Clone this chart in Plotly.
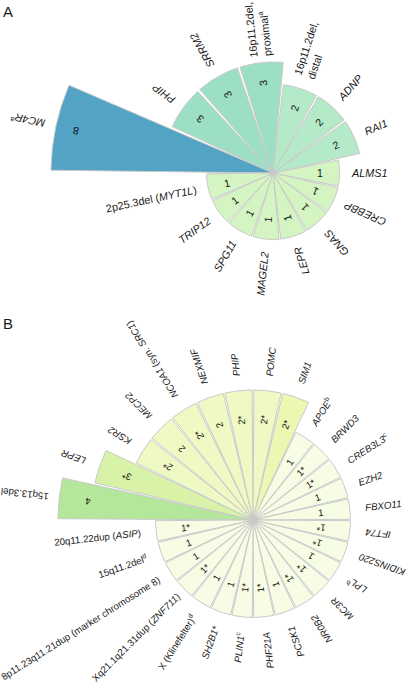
import re
import numpy as np
import plotly.graph_objects as go

# ---- data ----
# Panel A
labels_a = [
    "<i>MC4R</i><sup>a</sup>", "<i>PHIP</i>", "<i>SRRM2</i>",
    "16p11.2del,<br>proximal<sup>a</sup>", "16p11.2del,<br>distal",
    "<i>ADNP</i>", "<i>RAI1</i>", "<i>ALMS1</i>", "<i>CREBBP</i>", "<i>GNAS</i>",
    "<i>LEPR</i>", "<i>MAGEL2</i>", "<i>SPG11</i>", "<i>TRIP12</i>",
    "2p25.3del (<i>MYT1L</i>)",
]
counts_a = [8, 3, 3, 3, 2, 2, 2, 1, 1, 1, 1, 1, 1, 1, 1]
starred_a = [False] * 15

# Panel B
labels_b = [
    "15q13.3del", "<i>LEPR</i>", "<i>KSR2</i>", "<i>MECP2</i>",
    "<i>NCOA1</i> (syn. <i>SRC1</i>)", "<i>NEXMIF</i>", "<i>PHIP</i>",
    "<i>POMC</i>", "<i>SIM1</i>", "<i>APOE</i><sup>b</sup>", "<i>BRWD3</i>",
    "<i>CREB3L3</i><sup>c</sup>", "<i>EZH2</i>", "<i>FBXO11</i>", "<i>IFT74</i>",
    "<i>KIDINS220</i>", "<i>LPL</i><sup>b</sup>", "<i>MC3R</i>", "<i>NR0B2</i>",
    "<i>PCSK1</i>", "<i>PHF21A</i>", "<i>PLIN1</i><sup>c</sup>", "<i>SH2B1</i>*",
    "X (Klinefelter)<sup>d</sup>", "Xq21.1q21.31dup (<i>ZNF711</i>)",
    "8p11.23q11.21dup (marker chromosome 8)", "15q11.2del<sup>d</sup>",
    "20q11.22dup (<i>ASIP</i>)",
]
counts_b = [4, 3, 2, 2, 2, 2, 2, 2, 2, 1, 1, 1, 1, 1,
            1, 1, 1, 1, 1, 1, 1, 1, 1, 1, 1, 1, 1, 1]
starred_b = [False, True, True, False, True, False, True, True, True, False,
             True, True, False, False, True, True, False, True, True, False,
             True, True, False, False, True, False, False, True]

# colours by count
colors_a = {8: "#52a3c4", 3: "#9ddfc5", 2: "#b4eac8", 1: "#d4f5c2"}
colors_b = {4: "#b4e79c", 3: "#d8f3a8", 2: "#eff9c3", 1: "#f7fce5"}
color_override_b = {"<i>SIM1</i>": "#ebf8b2"}

W, H = 406, 685
SPLIT = 345          # pixel row dividing the two panels
R_MIN = -2           # radial axis starts below zero
FONT = "Liberation Sans, Arial, sans-serif"

# Arial advance widths (em/1000)
CW = dict(zip(" !(),-.*/", [278, 278, 333, 333, 278, 333, 278, 389, 278]))
CW.update({d: 556 for d in "0123456789"})
CW.update(dict(zip("ABCDEFGHIJKLMNOPQRSTUVWXYZ",
                   [667, 667, 722, 722, 667, 611, 778, 722, 278, 500, 667, 556, 833,
                    722, 778, 667, 778, 722, 667, 611, 722, 667, 944, 667, 667, 611])))
CW.update(dict(zip("abcdefghijklmnopqrstuvwxyz",
                   [556, 556, 500, 556, 556, 278, 556, 556, 222, 222, 500, 222, 833,
                    556, 556, 556, 556, 333, 500, 278, 556, 500, 722, 500, 500, 500])))


def text_width(label, size):
    best = 0
    for line in label.split("<br>"):
        w = 0
        for part in re.split(r"(<sup>.*?</sup>)", line):
            scale = 0.7 if part.startswith("<sup>") else 1.0
            plain = re.sub(r"<[^>]+>", "", part)
            w += scale * sum(CW.get(c, 556) for c in plain) / 1000
        best = max(best, w)
    return best * size


fig = go.Figure()


def draw_panel(labels, counts, starred, cmap, override, cx, cy, ppu,
               xref, yref, label_size, num_size, gap_px, dot_size):
    n = len(labels)
    step = 360 / n
    start = 180 - step / 2
    half = step * 0.47
    for i, (lab, v, st) in enumerate(zip(labels, counts, starred)):
        theta = start - i * step
        rad = v - R_MIN
        arc = np.radians(np.linspace(theta - half, theta + half, 30))
        xs = np.concatenate([[0], rad * np.cos(arc), [0]])
        ys = np.concatenate([[0], rad * np.sin(arc), [0]])
        fig.add_trace(go.Scatter(
            x=xs, y=ys, mode="lines", fill="toself",
            fillcolor=override.get(lab, cmap[v]),
            line=dict(color="#c9c9c9", width=1),
            xaxis=xref, yaxis=yref, hoverinfo="skip", showlegend=False,
        ))
        rot = theta if theta >= -1e-6 else theta + 180
        t = np.radians(theta)
        c, s = np.cos(t), np.sin(t)
        # count inside the wedge
        r_num = rad - 0.9
        fig.add_annotation(
            x=r_num * c, y=r_num * s, xref=xref, yref=yref,
            text=f"{v}*" if st else f"{v}", textangle=-rot, showarrow=False,
            font=dict(family=FONT, size=num_size, color="#111"),
            xanchor="center", yanchor="middle",
        )
        # label outside the wedge; pull it in if it would leave the page
        w_px = text_width(lab, label_size)
        room = []
        if c < -1e-6:
            room.append((cx - 1) / -c)
        if c > 1e-6:
            room.append((W - 1 - cx) / c)
        if s > 1e-6:
            room.append((cy - 1) / s)
        if s < -1e-6:
            room.append((H - 5 - cy) / -s)
        max_end = min(room) if room else 1e9
        gap = gap_px
        end = rad * ppu + gap + w_px
        if end > max_end:
            gap = max(4, gap - (end - max_end))
        r_lab = rad + (gap + w_px / 2) / ppu
        fig.add_annotation(
            x=r_lab * c, y=r_lab * s, xref=xref, yref=yref,
            text=lab, textangle=-rot, showarrow=False, align="left",
            font=dict(family=FONT, size=label_size, color="#1a1a1a"),
            xanchor="center", yanchor="middle",
        )
    fig.add_trace(go.Scatter(
        x=[0], y=[0], mode="markers",
        marker=dict(color="#c9c9c9", size=dot_size),
        xaxis=xref, yaxis=yref, hoverinfo="skip", showlegend=False,
    ))


# panel geometry (pixel centre, px per radial unit)
cx_a, cy_a, s_a = 273, 173, 222 / (max(counts_a) - R_MIN)
cx_b, cy_b, s_b = 253, 520, 195 / (max(counts_b) - R_MIN)

draw_panel(labels_a, counts_a, starred_a, colors_a, {}, cx_a, cy_a, s_a,
           "x", "y", 10.8, 10.5, 12, 6)
draw_panel(labels_b, counts_b, starred_b, colors_b, color_override_b,
           cx_b, cy_b, s_b, "x2", "y2", 9.7, 9.5, 15, 9)

split_frac = 1 - SPLIT / H
axis_off = dict(visible=False, showgrid=False, zeroline=False, fixedrange=True)
fig.update_layout(
    width=W, height=H,
    margin=dict(l=0, r=0, t=0, b=0),
    plot_bgcolor="white", paper_bgcolor="white",
    xaxis=dict(domain=[0, 1], range=[-cx_a / s_a, (W - cx_a) / s_a],
               anchor="y", **axis_off),
    yaxis=dict(domain=[split_frac, 1], range=[-(SPLIT - cy_a) / s_a, cy_a / s_a],
               anchor="x", **axis_off),
    xaxis2=dict(domain=[0, 1], range=[-cx_b / s_b, (W - cx_b) / s_b],
                anchor="y2", **axis_off),
    yaxis2=dict(domain=[0, split_frac],
                range=[-(H - cy_b) / s_b, (cy_b - SPLIT) / s_b],
                anchor="x2", **axis_off),
)

for letter, ypix in [("A", 1), ("B", 313)]:
    fig.add_annotation(
        x=1 / W, y=1 - ypix / H, xref="paper", yref="paper", text=letter,
        showarrow=False, xanchor="left", yanchor="top",
        font=dict(family=FONT, size=15, color="#1a1a1a"),
    )

# page body has a default 8px margin; remove it so the figure fills the window
fig.write_html("out.html", config={"displayModeBar": False},
               post_script="document.body.style.margin='0';")
